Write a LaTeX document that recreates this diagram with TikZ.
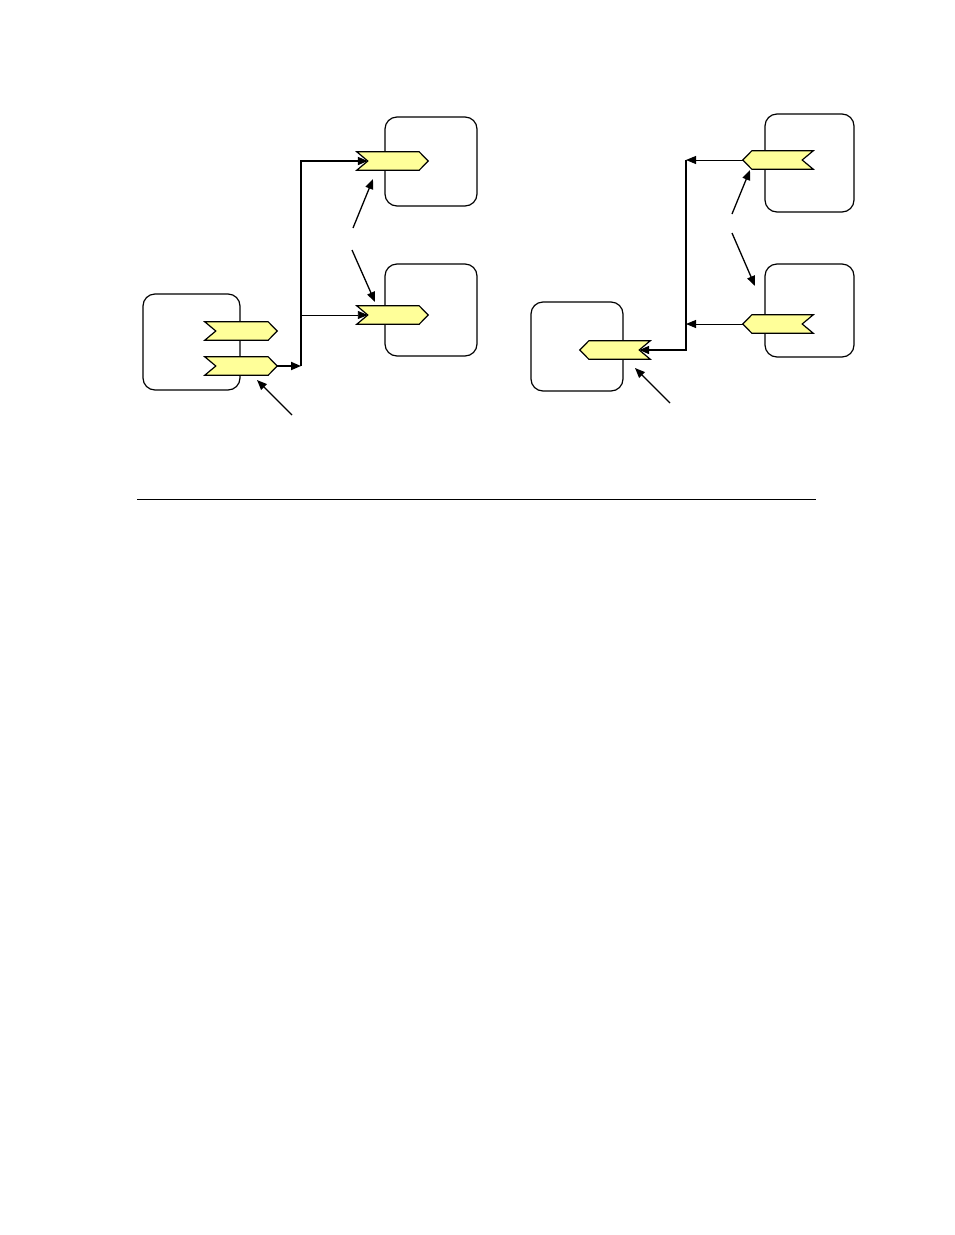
\documentclass[tikz,border=0pt]{standalone}
\usetikzlibrary{arrows.meta}
\definecolor{portfill}{RGB}{255,255,153}
\begin{document}
\begin{tikzpicture}[x=1pt,y=-1pt,
  boxst/.style={draw,line width=1.2pt,rounded corners=12pt,inner sep=0pt},
  portst/.style={draw=none,inner sep=0pt,minimum height=18pt},
  portline/.style={draw,line width=1.2pt,fill=portfill,line join=miter},
  thk/.style={line width=1.8pt,-{Triangle[length=10pt,width=8pt]}},
  thn/.style={line width=0.9pt,-{Triangle[length=10pt,width=8pt]}},
  ptr/.style={line width=1.3pt,-{Triangle[length=10pt,width=8pt]}}]
\useasboundingbox (0,0) rectangle (954,1235);
% ---------- left diagram ----------
\node[boxst,minimum width=97pt,minimum height=96pt] (L1) at (191.5,342) {};
\node[boxst,minimum width=92pt,minimum height=89pt] (L2) at (431,161.5) {};
\node[boxst,minimum width=92pt,minimum height=92pt] (L3) at (431,310) {};
\node[portst,minimum width=72pt] (PA) at (241,331) {};
\node[portst,minimum width=72pt] (PB) at (241,366) {};
\node[portst,minimum width=71pt] (PL2) at (392.5,161) {};
\node[portst,minimum width=71pt] (PL3) at (392.5,315) {};
\foreach \p in {PA,PB,PL2,PL3}{
  \path[portline] (\p.north west) -- ([xshift=-9pt]\p.north east) -- (\p.east)
    -- ([xshift=-9pt]\p.south east) -- (\p.south west) -- ([xshift=11pt]\p.west) -- cycle;
}
\coordinate (nL2) at ([xshift=11pt]PL2.west);
\coordinate (nL3) at ([xshift=11pt]PL3.west);
\coordinate (jL1) at (301,366);
\coordinate (jL2) at (301,161);
\coordinate (jL3) at (301,315);
\draw[thk] (PB.east) -- (jL1);
\draw[thk] (jL1) -- (jL2) -- (nL2);
\draw[thn] (jL3) -- (nL3);
\coordinate (a1s) at (353,228); \coordinate (a1e) at (373,179);
\coordinate (a2s) at (352,250); \coordinate (a2e) at (375,302);
\coordinate (a3s) at (292,415); \coordinate (a3e) at (257,380);
\draw[ptr] (a1s) -- (a1e);
\draw[ptr] (a2s) -- (a2e);
\draw[ptr] (a3s) -- (a3e);
% ---------- right diagram ----------
\node[boxst,minimum width=92pt,minimum height=89pt] (R1) at (577,346.5) {};
\node[boxst,minimum width=89pt,minimum height=98pt] (R2) at (809.5,163) {};
\node[boxst,minimum width=89pt,minimum height=93pt] (R3) at (809.5,310.5) {};
\node[portst,minimum width=70pt] (PR2) at (778,160) {};
\node[portst,minimum width=70pt] (PR3) at (778,324) {};
\node[portst,minimum width=70pt] (PR1) at (615,350) {};
\foreach \p in {PR1,PR2,PR3}{
  \path[portline] (\p.west) -- ([xshift=9pt]\p.north west) -- (\p.north east)
    -- ([xshift=-11pt]\p.east) -- (\p.south east) -- ([xshift=9pt]\p.south west) -- cycle;
}
\coordinate (nR1) at ([xshift=-11pt]PR1.east);
\coordinate (jR2) at (686,160);
\coordinate (jR3) at (686,324);
\coordinate (jR1) at (686,350);
\draw[thn] (PR2.west) -- (jR2);
\draw[thn] (PR3.west) -- (jR3);
\draw[thk] (jR2) -- (jR1) -- (nR1);
\coordinate (b1s) at (732,214); \coordinate (b1e) at (750,170);
\coordinate (b2s) at (732,233); \coordinate (b2e) at (755,286);
\coordinate (b3s) at (670,403); \coordinate (b3e) at (635,368);
\draw[ptr] (b1s) -- (b1e);
\draw[ptr] (b2s) -- (b2e);
\draw[ptr] (b3s) -- (b3e);
% ---------- separator ----------
\coordinate (s1) at (137,499); \coordinate (s2) at (816,499);
\draw[line width=0.9pt] (s1) -- (s2);
\end{tikzpicture}
\end{document}
